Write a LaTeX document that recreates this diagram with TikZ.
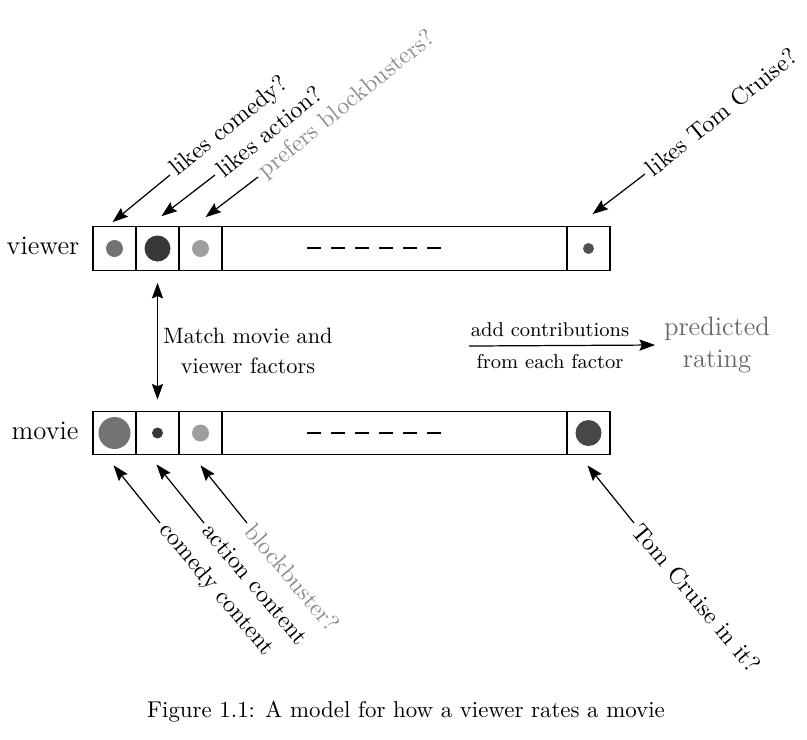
\documentclass[tikz,border=0pt]{standalone}
\usepackage{tikz}
\usetikzlibrary{calc,arrows.meta}
\tikzset{
	cell/.style={draw, line width=0.5pt, minimum width=19.35pt, minimum height=19.6pt, inner sep=0pt},
	widecell/.style={cell, minimum width=155.25pt},
	arr/.style={line width=0.55pt, -{Stealth[length=7pt,width=5pt,inset=1pt]}},
	dbl/.style={line width=0.55pt, {Stealth[length=7pt,width=5pt,inset=1pt]}-{Stealth[length=7pt,width=5pt,inset=1pt]}},
	lbl/.style={inner sep=2pt, font=\fontsize{10.8}{13}\selectfont},
	greylbl/.style={lbl, text=black!45},
	dashes/.style={line width=1.1pt, dash pattern=on 6.3pt off 4.5pt}
}

\begin{document}
\begin{tikzpicture}[x=0.45pt,y=-0.45pt]
			%%%%% START %%%%%
			\useasboundingbox (0,0) rectangle (807,739);
			
			% viewer row
			\node[font=\large] (vname) at (43,246) {viewer};
			\node[cell] (v1) at (114.5,248.5) {};
			\node[cell] (v2) at (157.5,248.5) {};
			\node[cell] (v3) at (200.5,248.5) {};
			\node[widecell] (vmid) at (394.5,248.5) {};
			\node[cell] (vlast) at (588.5,248.5) {};
			\fill[black!55] (v1) circle (8.5);
			\fill[black!78] (v2) circle (13);
			\fill[black!38] (v3) circle (8.5);
			\fill[black!68] (vlast) circle (5.5);
			\draw[dashes] (307,248) -- (441,248);
			
			% movie row
			\node[font=\large] (mname) at (45,431) {movie};
			\node[cell] (m1) at (114.5,433) {};
			\node[cell] (m2) at (157.5,433) {};
			\node[cell] (m3) at (200.5,433) {};
			\node[widecell] (mmid) at (394.5,433) {};
			\node[cell] (mlast) at (588.5,433) {};
			\fill[black!55] (m1) circle (16);
			\fill[black!78] (m2) circle (5.5);
			\fill[black!38] (m3) circle (8.5);
			\fill[black!72] (mlast) circle (13);
			\draw[dashes] (307,433) -- (441,433);
			
			% matching
			\draw[dbl, shorten <=5.4pt, shorten >=5pt] (v2.south) -- (m2.north);
			\node[align=center] (match) at (248,351) {Match movie and\\[1.5pt]viewer factors};
			
			% sum
			\coordinate (sumL) at (469,346);
			\node[align=center, font=\large, text=black!60] (pred) at (717,345) {predicted\\rating};
			\draw[arr, shorten >=0.5pt] (sumL) -- (pred.west);
			\node[font=\small, anchor=south] (addc) at (550,345) {add contributions};
			\node[font=\small, anchor=north] (fromf) at (550,347) {from each factor};
			
			% viewer factors
			\node[lbl, rotate=39, anchor=west] (lcom) at (170,175) {likes comedy?};
			\node[lbl, rotate=39, anchor=west] (lact) at (215,175) {likes action?};
			\node[greylbl, rotate=39, anchor=west] (lblock) at (258,177) {prefers blockbusters?};
			\node[lbl, rotate=39, anchor=west] (ltom) at (645,174) {likes Tom Cruise?};
			\draw[arr] (lcom.west) -- ($(v1.north)+(-2,-4)$);
			\draw[arr] (lact.west) -- ($(v2.north)+(4,-10)$);
			\draw[arr] (lblock.west) -- ($(v3.north)+(5,-9)$);
			\draw[arr] (ltom.west) -- ($(vlast.north)+(4,-12)$);
			
			% movie factors
			\node[lbl, rotate=-50, anchor=west] (ccom) at (160,523) {comedy content};
			\node[lbl, rotate=-50, anchor=west] (cact) at (204,523) {action content};
			\node[greylbl, rotate=-50, anchor=west] (cblock) at (247,523) {blockbuster?};
			\node[lbl, rotate=-50, anchor=west] (ctom) at (634,523) {Tom Cruise in it?};
			\draw[arr] (ccom.west) -- ($(m1.south)+(-1,10)$);
			\draw[arr] (cact.west) -- ($(m2.south)+(-1,9)$);
			\draw[arr] (cblock.west) -- ($(m3.south)+(0,10)$);
			\draw[arr] (ctom.west) -- ($(mlast.south)+(-1,10)$);
			
			% caption
			\node[font=\fontsize{10.3}{12}\selectfont] (cap) at (406,712) {Figure 1.1: A model for how a viewer rates a movie};
			%%%%% END %%%%%
\end{tikzpicture}
\end{document}
